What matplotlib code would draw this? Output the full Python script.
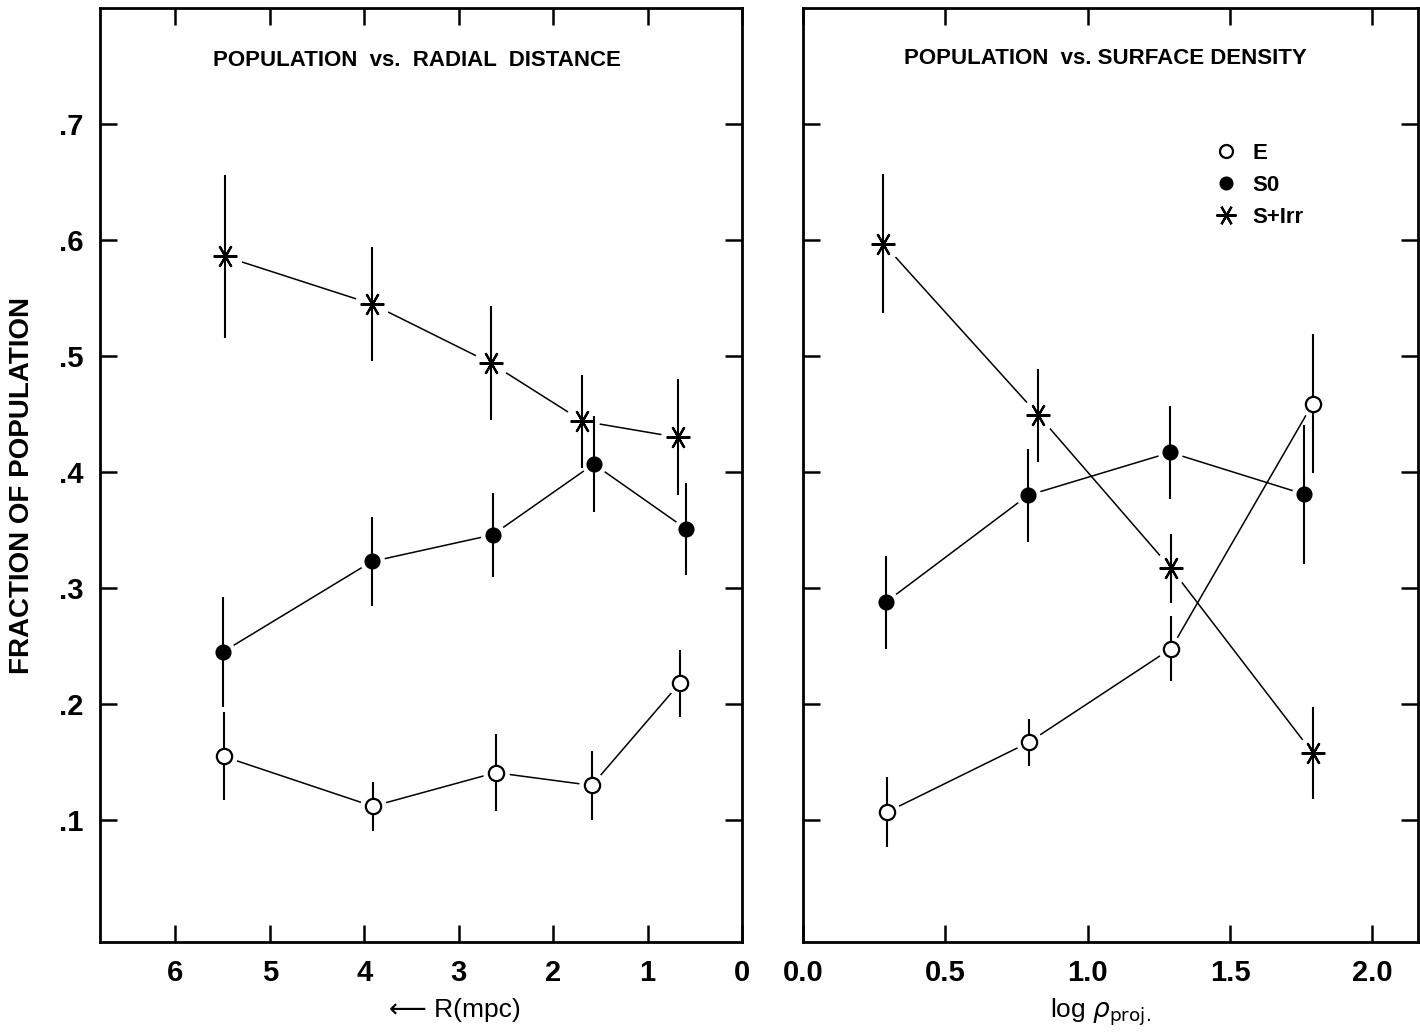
import matplotlib
matplotlib.use("Agg")
from matplotlib import pyplot as plt

# left panel: fraction vs radial distance R (mpc)
r_E = [5.49, 3.91, 2.61, 1.59, 0.66]
frac_E_r = [0.155, 0.112, 0.141, 0.130, 0.218]
err_E_r = [0.038, 0.021, 0.033, 0.030, 0.029]

r_S0 = [5.50, 3.92, 2.64, 1.57, 0.59]
frac_S0_r = [0.245, 0.323, 0.346, 0.407, 0.351]
err_S0_r = [0.047, 0.038, 0.036, 0.041, 0.040]

r_SI = [5.48, 3.92, 2.66, 1.69, 0.68]
frac_SI_r = [0.586, 0.545, 0.494, 0.444, 0.430]
err_SI_r = [0.070, 0.049, 0.049, 0.040, 0.050]

# right panel: fraction vs log projected surface density
logp_E = [0.295, 0.792, 1.293, 1.79]
frac_E_p = [0.107, 0.167, 0.248, 0.459]
err_E_p = [0.030, 0.020, 0.028, 0.060]

logp_S0 = [0.291, 0.790, 1.290, 1.76]
frac_S0_p = [0.288, 0.380, 0.417, 0.381]
err_S0_p = [0.040, 0.040, 0.040, 0.060]

logp_SI = [0.282, 0.827, 1.293, 1.79]
frac_SI_p = [0.597, 0.449, 0.317, 0.158]
err_SI_p = [0.060, 0.040, 0.030, 0.040]

y_ticks = [0.1, 0.2, 0.3, 0.4, 0.5, 0.6, 0.7]
y_tick_labels = [".1", ".2", ".3", ".4", ".5", ".6", ".7"]
r_ticks = [6, 5, 4, 3, 2, 1, 0]
p_ticks = [0.0, 0.5, 1.0, 1.5, 2.0]
p_tick_labels = ["0.0", "0.5", "1.0", "1.5", "2.0"]

plt.rcParams['font.family'] = ['Liberation Sans', 'DejaVu Sans']

STAR = (6, 2, 30)


def draw_series(ax, x, y, err, marker, face, ms):
    ax.plot(x, y, color="black", lw=1.1, zorder=1)
    # white halo so connecting lines stop short of the symbols
    ax.plot(x, y, ls="none", marker="o", ms=ms + 7, mfc="white", mec="white", zorder=2)
    ax.errorbar(x, y, yerr=err, fmt="none", ecolor="black", elinewidth=1.5, capsize=0, zorder=3)
    h, = ax.plot(x, y, ls="none", marker=marker, ms=ms, mfc=face, mec="black", mew=1.6, zorder=4)
    return h


def style_axes(ax):
    for s in ax.spines.values():
        s.set_linewidth(2.0)
    ax.tick_params(direction="in", length=12, width=1.8, top=True, right=True,
                   labelsize=21, pad=12)
    ax.set_ylim(-0.005, 0.80)
    ax.set_yticks(y_ticks)


fig = plt.figure(figsize=(14.2, 10.36), dpi=100)
ax1 = fig.add_axes([0.0704, 0.0907, 0.4521, 0.9015])
ax2 = fig.add_axes([0.5655, 0.0907, 0.4331, 0.9015])

# left panel
style_axes(ax1)
draw_series(ax1, r_E, frac_E_r, err_E_r, "o", "white", 11)
draw_series(ax1, r_S0, frac_S0_r, err_S0_r, "o", "black", 10)
draw_series(ax1, r_SI, frac_SI_r, err_SI_r, STAR, "black", 17)
ax1.set_xlim(6.8, 0)
ax1.set_xticks(r_ticks)
ax1.set_xticklabels([str(t) for t in r_ticks], fontweight="bold")
ax1.set_yticklabels(y_tick_labels, fontweight="bold")
ax1.text(0.494, 0.944, "POPULATION  vs.  RADIAL  DISTANCE", transform=ax1.transAxes,
         ha="center", va="center", fontsize=16, fontweight="bold")
ax1.set_ylabel("FRACTION OF POPULATION", fontsize=20, fontweight="bold")
ax1.yaxis.set_label_coords(-0.101, 0.489)
ax1.text(0.553, -0.073, "\u27F5 R(mpc)", transform=ax1.transAxes, ha="center",
         va="center", fontsize=19)

# right panel
style_axes(ax2)
hE = draw_series(ax2, logp_E, frac_E_p, err_E_p, "o", "white", 11)
hS0 = draw_series(ax2, logp_S0, frac_S0_p, err_S0_p, "o", "black", 10)
hSI = draw_series(ax2, logp_SI, frac_SI_p, err_SI_p, STAR, "black", 17)
ax2.set_xlim(0, 2.16)
ax2.set_xticks(p_ticks)
ax2.set_xticklabels(p_tick_labels, fontweight="bold")
ax2.set_yticklabels([])
ax2.text(0.491, 0.946, "POPULATION  vs. SURFACE DENSITY", transform=ax2.transAxes,
         ha="center", va="center", fontsize=16, fontweight="bold")
ax2.text(0.483, -0.075, r"log $\rho_{\mathrm{proj.}}$", transform=ax2.transAxes,
         ha="center", va="center", fontsize=19)

leg = ax2.legend([hE, hS0, hSI], ["E", "S0", "S+Irr"], loc="upper left",
                 bbox_to_anchor=(0.64, 0.877), frameon=False, handlelength=0.8,
                 handletextpad=0.8, labelspacing=0.5, markerscale=0.85,
                 prop={"size": 16, "weight": "bold"})

fig.savefig("out.png", dpi=100)
